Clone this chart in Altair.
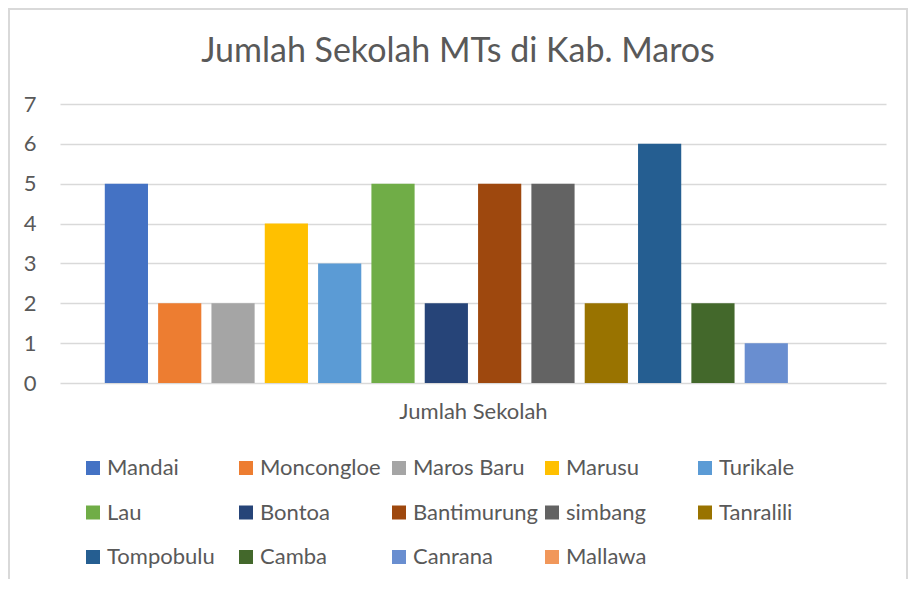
import altair as alt
import pandas as pd

kecamatan = ["Mandai", "Moncongloe", "Maros Baru", "Marusu", "Turikale", "Lau", "Bontoa",
             "Bantimurung", "simbang", "Tanralili", "Tompobulu", "Camba", "Canrana", "Mallawa"]
jumlah = [5, 2, 2, 4, 3, 5, 2, 5, 5, 2, 6, 2, 1, 0]
warna = ["#4472C4", "#ED7D31", "#A5A5A5", "#FFC000", "#5B9BD5", "#70AD47", "#264478",
         "#9E480E", "#636363", "#997300", "#255E91", "#43682B", "#698ED0", "#F1975A"]
y_ticks = [0, 1, 2, 3, 4, 5, 6, 7]

df = pd.DataFrame({"Kecamatan": kecamatan, "Jumlah": jumlah})

FONT = "Lato"
GREY = "#595959"
FS = 22

bars = alt.Chart(df).mark_bar().encode(
    x=alt.X("Kecamatan:N", sort=kecamatan,
            scale=alt.Scale(paddingInner=0.19, paddingOuter=0.84),
            axis=alt.Axis(labels=False, ticks=False, domain=False, grid=False,
                          title="Jumlah Sekolah", titleFont=FONT, titleFontSize=FS,
                          titleFontWeight="normal", titleColor=GREY, titlePadding=18)),
    y=alt.Y("Jumlah:Q", scale=alt.Scale(domain=[0, 7], nice=False),
            axis=alt.Axis(values=y_ticks, title=None, domain=False, ticks=False,
                          labelFont=FONT, labelFontSize=FS, labelColor=GREY,
                          labelPadding=24, gridColor="#d9d9d9", gridWidth=1.5)),
    color=alt.Color("Kecamatan:N", sort=kecamatan,
                    scale=alt.Scale(domain=kecamatan, range=warna),
                    legend=alt.Legend(title=None, orient="none", legendX=22, legendY=353,
                                      direction="horizontal",
                                      columns=5, gridAlign="all", symbolType="square",
                                      symbolSize=196, symbolStrokeWidth=0, labelOffset=3,
                                      labelFont=FONT, labelFontSize=FS, labelColor=GREY,
                                      columnPadding=2, rowPadding=22.5, labelLimit=300)),
)

frame = alt.Chart(df).mark_rect(fill=None, stroke="#d9d9d9", strokeWidth=2, clip=False).encode(
    x=alt.value(-51), x2=alt.value(847), y=alt.value(-95), y2=alt.value(520)
)

chart = alt.layer(frame, bars).properties(
    width=826, height=279,
    padding={"left": 52, "top": 96, "right": 22, "bottom": 196},
    autosize=alt.AutoSizeParams(type="none"),
    title=alt.TitleParams("Jumlah Sekolah MTs di Kab. Maros", font=FONT, fontSize=34,
                          fontWeight="normal", color=GREY, anchor="middle", offset=0,
                          dy=61, frame="bounds"),
).configure_view(stroke=None)

chart.save("out.html", embed_options={"renderer": "svg", "actions": False})
